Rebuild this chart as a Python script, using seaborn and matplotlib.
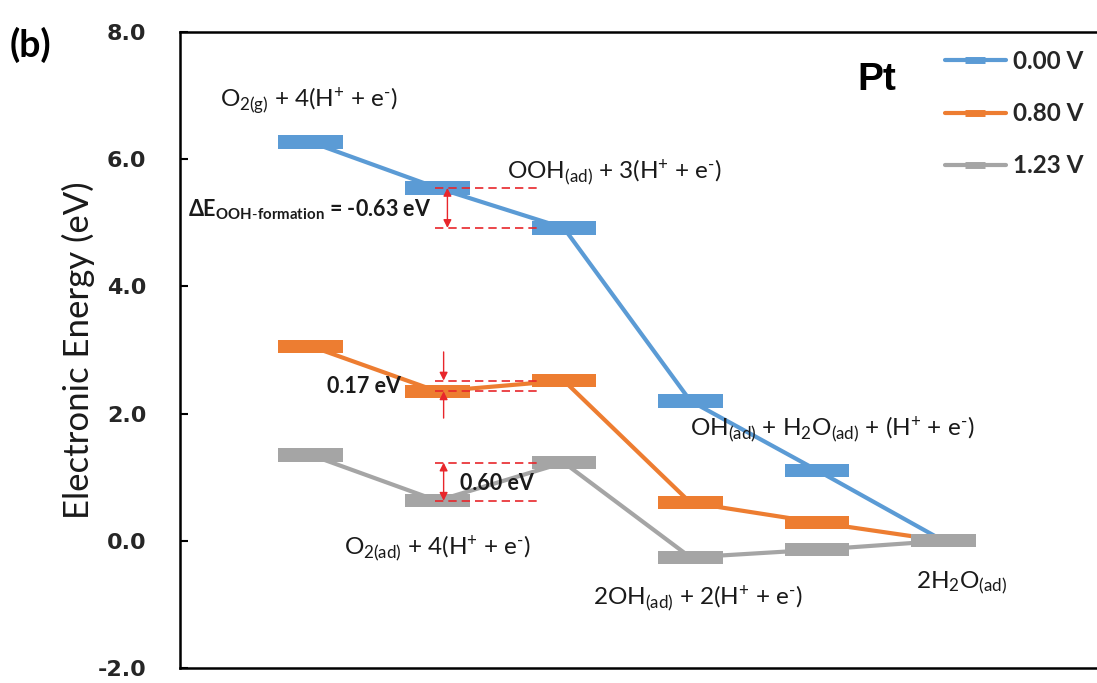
import numpy as np
import pandas as pd
import matplotlib
matplotlib.use("Agg")
import matplotlib.pyplot as plt
import seaborn as sns
from matplotlib.lines import Line2D

# ---------------- data ----------------
steps = [0, 1, 2, 3, 4, 5]
potentials = ["0.00 V", "0.80 V", "1.23 V"]
energy_000 = [6.27, 5.55, 4.92, 2.20, 1.11, 0.00]
energy_080 = [3.06, 2.35, 2.52, 0.60, 0.29, 0.00]
energy_123 = [1.35, 0.63, 1.23, -0.26, -0.14, 0.00]
colors = ["#5B9BD5", "#ED7D31", "#A5A5A5"]
yticks = [-2.0, 0.0, 2.0, 4.0, 6.0, 8.0]

H = r"(H$^{\mathrm{+}}$ + e$^{\text{-}}$)"
state_labels = [
    r"O$_{\mathrm{2(g)}}$ + 4" + H,
    r"OOH$_{\mathrm{(ad)}}$ + 3" + H,
    r"O$_{\mathrm{2(ad)}}$ + 4" + H,
    r"OH$_{\mathrm{(ad)}}$ + H$_{\mathrm{2}}$O$_{\mathrm{(ad)}}$ + " + H,
    r"2OH$_{\mathrm{(ad)}}$ + 2" + H,
    r"2H$_{\mathrm{2}}$O$_{\mathrm{(ad)}}$",
]
label_pos = [(-0.72, 6.92), (1.55, 5.80), (0.26, -0.11), (3.0, 1.75), (2.23, -0.90), (4.78, -0.66)]

series = {"0.00 V": energy_000, "0.80 V": energy_080, "1.23 V": energy_123}
df = pd.DataFrame(
    [(s, p, e) for p in potentials for s, e in zip(steps, series[p])],
    columns=["step", "potential", "energy"],
)

# ---------------- style ----------------
sns.set_theme(style="white")
plt.rcParams["font.family"] = ["Lato", "DejaVu Sans"]
plt.rcParams["mathtext.fontset"] = "custom"
plt.rcParams["mathtext.rm"] = "Lato"
plt.rcParams["mathtext.it"] = "Lato:italic"
plt.rcParams["mathtext.bf"] = "Lato:bold"

fig = plt.figure(figsize=(10.97, 6.83), dpi=100)
ax = fig.add_axes([0.164, 0.022, 0.846, 0.931])

sns.lineplot(data=df, x="step", y="energy", hue="potential", palette=colors,
             linewidth=3, legend=False, ax=ax, zorder=2)

bar_h = 0.21
for p, c in zip(potentials, colors):
    vals = np.array(series[p])
    ax.bar(steps, height=bar_h, bottom=vals - bar_h / 2, width=0.51,
           color=c, edgecolor="none", zorder=3)

ax.set_xlim(-1.034, 6.3)
ax.set_ylim(-2.0, 8.0)
ax.set_xticks([])
ax.set_yticks(yticks)
ax.set_yticklabels([f"{t:.1f}" for t in yticks], fontfamily="DejaVu Sans",
                   fontweight="bold", fontsize=16)
ax.tick_params(axis="y", direction="in", length=6, width=1.5, pad=24, color="black", left=True)
ax.set_xlabel("")
ax.set_ylabel("Electronic Energy (eV)", fontsize=25, color="#1a1a1a")
ax.yaxis.set_label_coords(-0.091, 0.50)
for side in ["left", "top", "bottom"]:
    ax.spines[side].set_color("black")
    ax.spines[side].set_linewidth(1.8)
ax.spines["right"].set_visible(False)

# state labels
for lab, (x, y) in zip(state_labels, label_pos):
    ax.text(x, y, lab, ha="left", va="center", fontsize=17.5, color="#1a1a1a", zorder=5)

# annotations
red = "#E8262B"
dash = (0, (5, 3))
x0, x1 = 0.98, 1.79
# blue
ax.hlines([energy_000[1], energy_000[2]], x0, x1, colors=red, linestyles=dash, lw=1.2, zorder=4)
ax.annotate("", xy=(1.08, energy_000[2]), xytext=(1.08, energy_000[1]),
            arrowprops=dict(arrowstyle="<|-|>", color=red, lw=1.0, mutation_scale=12,
                            shrinkA=0, shrinkB=0), zorder=4)
ax.text(-0.97, 5.20, r"ΔE$_{\mathbf{OOH\text{-}formation}}$ = -0.63 eV", ha="left", va="center",
        fontsize=15.5, fontweight="bold", color="#1a1a1a", zorder=5)
# orange
ax.hlines([energy_080[2], energy_080[1]], x0, x1, colors=red, linestyles=dash, lw=1.2, zorder=4)
ax.annotate("", xy=(1.05, energy_080[2]), xytext=(1.05, energy_080[2] + 0.45),
            arrowprops=dict(arrowstyle="-|>", color=red, lw=1.0, mutation_scale=12,
                            shrinkA=0, shrinkB=0), zorder=4)
ax.annotate("", xy=(1.05, energy_080[1]), xytext=(1.05, energy_080[1] - 0.42),
            arrowprops=dict(arrowstyle="-|>", color=red, lw=1.0, mutation_scale=12,
                            shrinkA=0, shrinkB=0), zorder=4)
ax.text(0.125, 2.42, "0.17 eV", ha="left", va="center", fontsize=15.5,
        fontweight="bold", color="#1a1a1a", zorder=5)
# gray
ax.hlines([energy_123[2], energy_123[1]], x0, x1, colors=red, linestyles=dash, lw=1.2, zorder=4)
ax.annotate("", xy=(1.05, energy_123[1]), xytext=(1.05, energy_123[2]),
            arrowprops=dict(arrowstyle="<|-|>", color=red, lw=1.0, mutation_scale=12,
                            shrinkA=0, shrinkB=0), zorder=4)
ax.text(1.18, 0.90, "0.60 eV", ha="left", va="center", fontsize=15.5,
        fontweight="bold", color="#1a1a1a", zorder=5)

# Pt label
ax.text(4.32, 7.24, "Pt", ha="left", va="center", fontsize=28, fontweight="bold",
        fontfamily="Liberation Sans", color="black", zorder=5)

# legend
handles = [Line2D([0], [0], color=c, lw=3, marker="_", markersize=14, markeredgewidth=5)
           for c in colors]
fig.legend(handles, potentials, loc="upper left", bbox_to_anchor=(945 / 1097, 1 - 50 / 683),
           frameon=False, borderpad=0, borderaxespad=0, handlelength=2.5, handletextpad=0.3,
           labelspacing=1.2, prop=dict(family="Lato", weight="bold", size=17.5))

fig.text(0.009, 1 - 45 / 683, "(b)", ha="left", va="center", fontsize=27,
         fontweight="bold", color="black")

fig.savefig("out.png", dpi=100)
